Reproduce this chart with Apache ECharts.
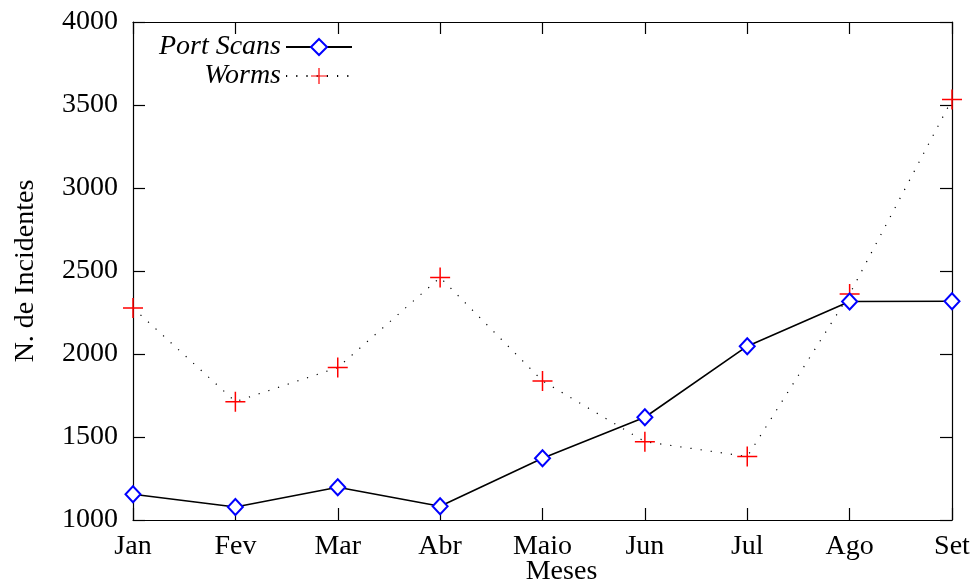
<!DOCTYPE html>
<html>
<head>
<meta charset="utf-8">
<script src="https://cdn.jsdelivr.net/npm/echarts@6/dist/echarts.min.js"></script>
<style>
html,body{margin:0;padding:0;background:#fff;}
#chart{width:977px;height:588px;}
</style>
</head>
<body>
<div id="chart"></div>
<script>
const months = ['Jan','Fev','Mar','Abr','Maio','Jun','Jul','Ago','Set'];
const portScans = [1155, 1078, 1197, 1083, 1372, 1619, 2047, 2316, 2318];
const worms = [2277, 1713, 1918, 2461, 1838, 1472, 1382, 2361, 3533];
const yTicks = [1000, 1500, 2000, 2500, 3000, 3500, 4000];

const FONT = 'Liberation Serif';
const FS = 28;
const plus = 'path://M9.25,0 H10.75 V9.25 H20 V10.75 H10.75 V20 H9.25 V10.75 H0 V9.25 H9.25 Z';

const chart = echarts.init(document.getElementById('chart'), null, {renderer:'canvas'});
const axisLineStyle = {color:'#000', width:1.2};
chart.setOption({
  animation:false,
  backgroundColor:'#fff',
  textStyle:{fontFamily:FONT, color:'#000'},
  grid:{left:133, right:25, top:22, bottom:68, containLabel:false, outerBoundsMode:'none'},
  legend:[
    {data:['Port Scans'], orient:'horizontal', align:'right', right:619, top:28,
     itemWidth:66, itemHeight:20, itemGap:0,
     textStyle:{fontFamily:FONT, fontSize:FS, fontStyle:'italic', color:'#000'}},
    {data:['Worms'], orient:'horizontal', align:'right', right:619, top:57,
     itemWidth:66, itemHeight:20, itemGap:0,
     textStyle:{fontFamily:FONT, fontSize:FS, fontStyle:'italic', color:'#000'}}
  ],
  xAxis:[
    {type:'category', data:months, boundaryGap:false, position:'bottom',
     name:'Meses', nameLocation:'middle', nameGap:38, nameMoveOverlap:false,
     nameTextStyle:{fontFamily:FONT, fontSize:FS, color:'#000', padding:[0,0,0,38]},
     axisLine:{lineStyle:axisLineStyle},
     axisTick:{inside:true, length:12, lineStyle:axisLineStyle},
     axisLabel:{fontFamily:FONT, fontSize:FS, color:'#000', margin:13},
     splitLine:{show:false}},
    {type:'category', data:months, boundaryGap:false, position:'top',
     axisLine:{lineStyle:axisLineStyle},
     axisTick:{inside:true, length:12, lineStyle:axisLineStyle},
     axisLabel:{show:false}, splitLine:{show:false}}
  ],
  yAxis:[
    {type:'value', min:yTicks[0], max:yTicks[yTicks.length-1], interval:500, position:'left',
     name:'N. de Incidentes', nameLocation:'middle', nameGap:93, nameRotate:90, nameMoveOverlap:false,
     nameTextStyle:{fontFamily:FONT, fontSize:FS, color:'#000'},
     axisLine:{show:true, lineStyle:axisLineStyle},
     axisTick:{show:true, inside:true, length:12, lineStyle:axisLineStyle},
     axisLabel:{fontFamily:FONT, fontSize:FS, color:'#000', margin:15, formatter:v => String(v)},
     splitLine:{show:false}},
    {type:'value', min:yTicks[0], max:yTicks[yTicks.length-1], interval:500, position:'right',
     axisLine:{show:true, lineStyle:axisLineStyle},
     axisTick:{show:true, inside:true, length:12, lineStyle:axisLineStyle},
     axisLabel:{show:false}, splitLine:{show:false}}
  ],
  series:[
    {name:'Port Scans', type:'line', data:portScans, xAxisIndex:0, yAxisIndex:0,
     symbol:'emptyDiamond', symbolSize:[15,16], showAllSymbol:true,
     lineStyle:{color:'#000', width:1.6, type:'solid'},
     itemStyle:{color:'#0000ff', borderColor:'#0000ff', borderWidth:1.3},
     z:3},
    {name:'Worms', type:'line', data:worms, xAxisIndex:0, yAxisIndex:0,
     symbol:plus, symbolSize:20, showAllSymbol:true,
     lineStyle:{color:'#000', width:1.2, type:[1.2,9]},
     itemStyle:{color:'#ff0000', borderWidth:0},
     z:2}
  ]
});
</script>
</body>
</html>
